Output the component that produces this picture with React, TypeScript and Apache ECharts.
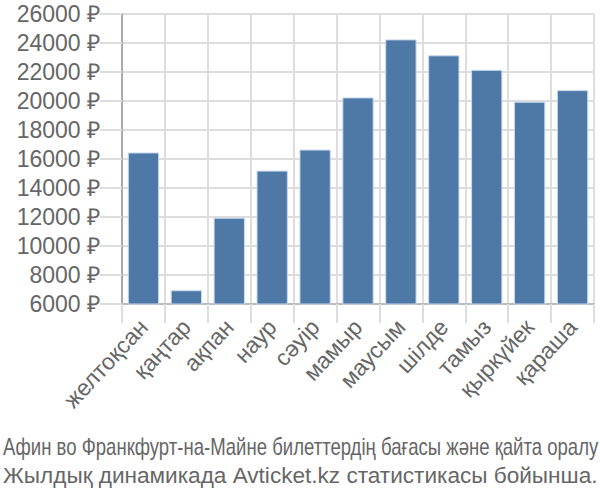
import React, { useEffect, useRef } from "react";
import * as echarts from "echarts";

const categories = ["желтоқсан", "қаңтар", "ақпан", "наур", "сәуір", "мамыр", "маусым", "шілде", "тамыз", "қыркүйек", "қараша"];
const prices = [16450, 6950, 11950, 15200, 16650, 20250, 24250, 23150, 22150, 19950, 20750];
const yTicks = { min: 6000, max: 26000, interval: 2000 };
const titleLine1 = "Афин во Франкфурт-на-Майне билеттердің бағасы және қайта оралу";
const titleLine2 = "Жылдық динамикада Avticket.kz статистикасы бойынша.";

function measure(text: string, font: string): number {
  const c = document.createElement("canvas").getContext("2d");
  if (!c) return 600;
  c.font = font;
  return c.measureText(text).width;
}

export default function App() {
  const ref = useRef<HTMLDivElement>(null);
  useEffect(() => {
    if (!ref.current) return;
    const chart = echarts.init(ref.current, null, { renderer: "svg" });
    const t1Font = "23px 'Liberation Sans'";
    const sx1 = 596 / measure(titleLine1, t1Font);
    const t2Font = "22px 'Liberation Sans'";
    const sx2 = 595 / measure(titleLine2, t2Font);
    chart.setOption({
      animation: false,
      grid: { left: 122, right: 6, top: 14, bottom: 196, containLabel: false },
      xAxis: {
        type: "category",
        data: categories,
        axisLine: { lineStyle: { color: "#bbbbbb", width: 2 } },
        axisTick: { show: true, length: 19, lineStyle: { color: "#dddddd", width: 2 } },
        splitLine: { show: true, lineStyle: { color: "#dddddd", width: 2 } },
        axisLabel: {
          rotate: 47,
          fontSize: 23,
          color: "#666666",
          fontFamily: "Liberation Sans, Arial, sans-serif",
          margin: 19,
          interval: 0,
        },
      },
      yAxis: {
        type: "value",
        min: yTicks.min,
        max: yTicks.max,
        interval: yTicks.interval,
        axisLine: { show: true, lineStyle: { color: "#aaaaaa", width: 2 } },
        axisTick: { show: true, length: 22, lineStyle: { color: "#dddddd", width: 2 } },
        splitLine: { show: true, lineStyle: { color: "#dddddd", width: 2 } },
        axisLabel: {
          fontSize: 23,
          color: "#666666",
          fontFamily: "Liberation Sans, Arial, sans-serif",
          margin: 22,
          formatter: (v: number) => `${v} ₽`,
        },
      },
      series: [
        {
          type: "bar",
          data: prices,
          barCategoryGap: "27%",
          itemStyle: { color: "#4e79a7", borderColor: "#c6d9ee", borderWidth: 1 },
        },
      ],
      graphic: [
        {
          type: "text",
          x: 3,
          y: 447,
          scaleX: sx1,
          style: {
            text: titleLine1,
            font: t1Font,
            fill: "#666666",
            textAlign: "left",
            textVerticalAlign: "middle",
          },
        },
        {
          type: "text",
          x: 3,
          y: 476,
          scaleX: sx2,
          style: {
            text: titleLine2,
            font: t2Font,
            fill: "#666666",
            textAlign: "left",
            textVerticalAlign: "middle",
          },
        },
      ],
    });
    return () => chart.dispose();
  }, []);
  return <div ref={ref} style={{ width: 600, height: 500, position: "absolute", left: 0, top: 0 }} />;
}
